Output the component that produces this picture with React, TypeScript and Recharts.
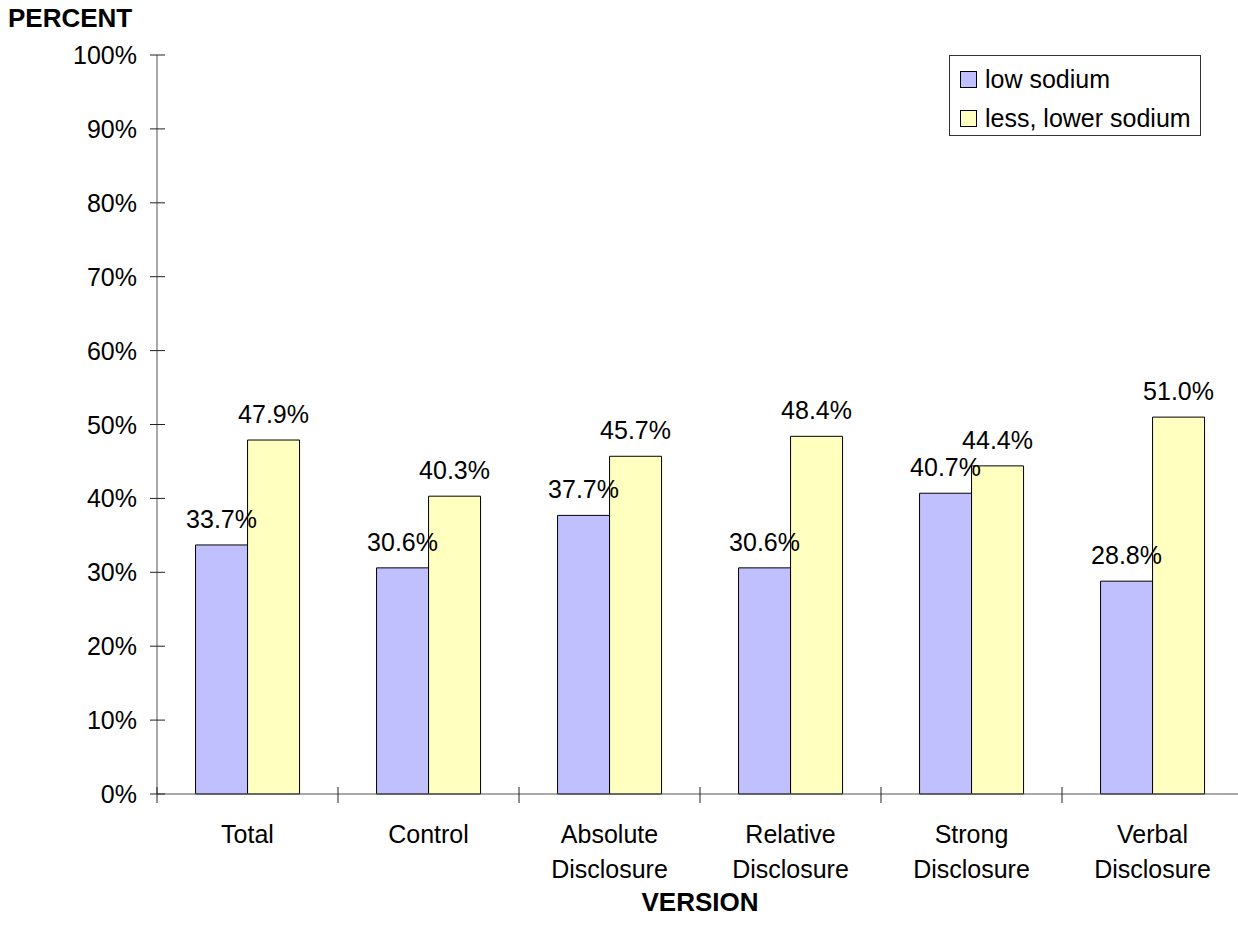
import { Bar, BarChart, LabelList, XAxis, YAxis } from 'recharts';

const categories = [
  'Total',
  'Control',
  'Absolute\nDisclosure',
  'Relative\nDisclosure',
  'Strong\nDisclosure',
  'Verbal\nDisclosure',
];
const lowSodium = [33.7, 30.6, 37.7, 30.6, 40.7, 28.8];
const lessLowerSodium = [47.9, 40.3, 45.7, 48.4, 44.4, 51.0];
const yTicks = [0, 10, 20, 30, 40, 50, 60, 70, 80, 90, 100];

const series = [
  { key: 'low', name: 'low sodium', color: '#C0C0FF' },
  { key: 'less', name: 'less, lower sodium', color: '#FFFFC0' },
];

const data = categories.map((name, i) => ({ name, low: lowSodium[i], less: lessLowerSodium[i] }));

const FONT = 'Arial, "Liberation Sans", sans-serif';
const CHART_W = 1250;
const CHART_H = 933;
const AXIS_W = 157;
const PLOT_W = CHART_W - AXIS_W - 7;
const BAND = PLOT_W / categories.length;

const XTick = ({ x, y, payload }: any) => {
  const lines = String(payload.value).split('\n');
  return (
    <g>
      <line x1={x - BAND / 2} x2={x - BAND / 2} y1={y - 7} y2={y + 9} stroke="#222" />
      <text x={x} y={y + 49} textAnchor="middle" fontSize={25} fontFamily={FONT} fill="#000">
        {lines.map((l, i) => (
          <tspan key={i} x={x} dy={i === 0 ? 0 : 35}>
            {l}
          </tspan>
        ))}
      </text>
    </g>
  );
};

const YTick = ({ x, y, payload }: any) => (
  <g>
    <line x1={x - 7} x2={x + 8} y1={y} y2={y} stroke="#222" />
    <text x={x - 20} y={y} dy="0.36em" textAnchor="end" fontSize={25} fontFamily={FONT} fill="#000">
      {`${payload.value}%`}
    </text>
  </g>
);

const LegendBox = () => (
  <div
    style={{
      position: 'absolute',
      left: 949,
      top: 55,
      width: 250,
      height: 79,
      border: '1px solid #333',
      background: '#fff',
      fontFamily: FONT,
      fontSize: 25,
    }}
  >
    {series.map((s, i) => (
      <div key={s.key} style={{ position: 'absolute', left: 10, top: 14 + i * 39, display: 'flex', alignItems: 'center', whiteSpace: 'nowrap' }}>
        <span style={{ width: 15, height: 15, border: '1px solid #000', background: s.color, display: 'inline-block', marginRight: 8 }} />
        <span style={{ lineHeight: '19px', color: '#000' }}>{s.name}</span>
      </div>
    ))}
  </div>
);

export default function App() {
  return (
    <div style={{ position: 'absolute', left: 0, top: 0, width: 1238, height: 933, overflow: 'hidden', background: '#fff' }}>
      <BarChart
        width={CHART_W}
        height={CHART_H}
        data={data}
        margin={{ top: 55, right: 7, bottom: 0, left: 0 }}
        barCategoryGap="21.3%"
        barGap={0}
      >
        <XAxis
          dataKey="name"
          interval={0}
          height={139}
          tickSize={0}
          tickMargin={0}
          tickLine={false}
          axisLine={{ stroke: '#555' }}
          tick={<XTick />}
        />
        <YAxis
          type="number"
          domain={[0, 100]}
          ticks={yTicks}
          width={AXIS_W}
          tickSize={0}
          tickMargin={0}
          tickLine={false}
          axisLine={{ stroke: '#555' }}
          tick={<YTick />}
        />
        {series.map((s) => (
          <Bar key={s.key} dataKey={s.key} name={s.name} fill={s.color} stroke="#000" strokeWidth={1} isAnimationActive={false}>
            <LabelList
              dataKey={s.key}
              position="top"
              offset={17}
              formatter={(v: any) => `${Number(v).toFixed(1)}%`}
              style={{ fontSize: 25, fontFamily: FONT, fill: '#000' }}
            />
          </Bar>
        ))}
      </BarChart>
      <LegendBox />
      <div style={{ position: 'absolute', left: 8, top: 3, fontFamily: FONT, fontWeight: 'bold', fontSize: 26, color: '#000' }}>
        PERCENT
      </div>
      <div style={{ position: 'absolute', left: AXIS_W, width: PLOT_W, top: 887, textAlign: 'center', fontFamily: FONT, fontWeight: 'bold', fontSize: 26, color: '#000' }}>
        VERSION
      </div>
    </div>
  );
}
